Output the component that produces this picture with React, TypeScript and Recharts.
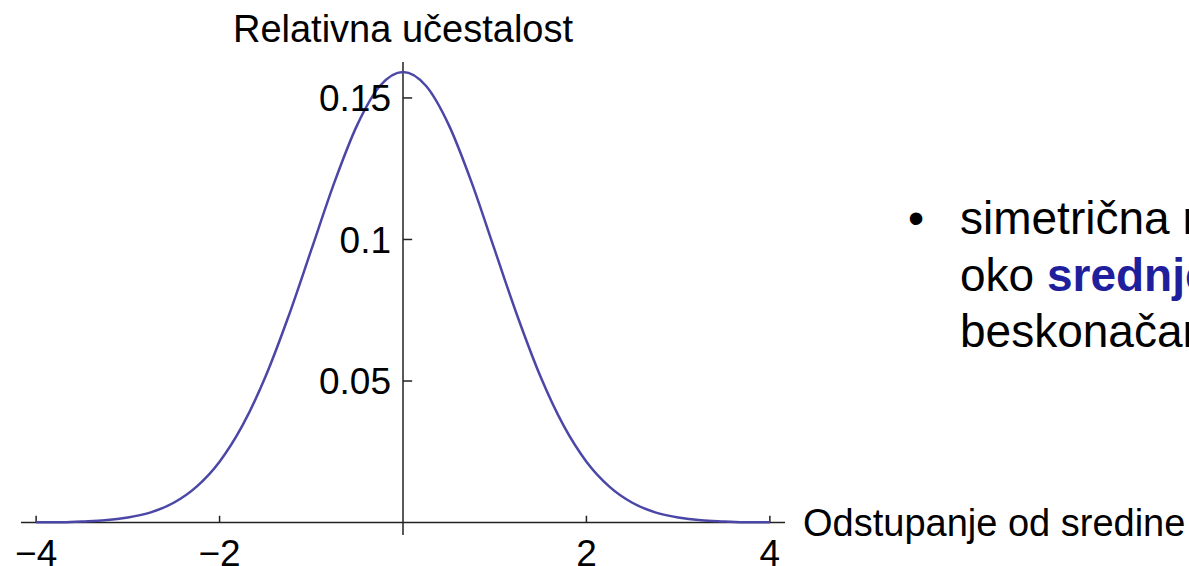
import { LineChart, Line, XAxis, YAxis, ReferenceLine } from 'recharts';

// odstupanje od sredine (x) i relativna ucestalost (y), ocitano sa slike
const deviations = [
  -4, -3.75, -3.5, -3.25, -3, -2.75, -2.5, -2.25, -2, -1.75, -1.5, -1.25, -1, -0.75, -0.5, -0.25,
  0, 0.25, 0.5, 0.75, 1, 1.25, 1.5, 1.75, 2, 2.25, 2.5, 2.75, 3, 3.25, 3.5, 3.75, 4,
];
const frequency = [
  0.0001, 0.0001, 0.0004, 0.0008, 0.0018, 0.0036, 0.007, 0.0127, 0.0215, 0.0343, 0.0515, 0.0727,
  0.0963, 0.12, 0.1404, 0.1543, 0.1592, 0.1543, 0.1404, 0.12, 0.0963, 0.0727, 0.0515, 0.0343,
  0.0215, 0.0127, 0.007, 0.0036, 0.0018, 0.0008, 0.0004, 0.0001, 0.0001,
];
const xTicks = [-4, -2, 2, 4];
const yTicks = [0.05, 0.1, 0.15];

const data = deviations.map((x, i) => ({ x, y: frequency[i] }));

const FONT = '"Liberation Sans", Arial, sans-serif';
const AXIS = '#222';

const fmtX = (v: number) => (v < 0 ? '\u2212' + Math.abs(v) : String(v));

export default function App() {
  return (
    <div style={{ position: 'absolute', left: 0, top: 0, width: 1189, height: 566, overflow: 'hidden', background: '#fff', fontFamily: FONT }}>
      <LineChart
        width={1189}
        height={566}
        data={data}
        margin={{ top: 62, right: 404, left: 21, bottom: 0 }}
        style={{ fontFamily: FONT }}
      >
        <XAxis
          dataKey="x"
          type="number"
          domain={[-4.165, 4.165]}
          allowDataOverflow
          ticks={xTicks}
          tickFormatter={fmtX}
          axisLine={false}
          tickLine={false}
          tickSize={0}
          tickMargin={5}
          height={31}
          tick={{ fill: '#000', fontSize: 37 }}
        />
        <YAxis hide type="number" domain={[-0.0044, 0.1627]} allowDataOverflow />

        <ReferenceLine
          y={0}
          stroke={AXIS}
          strokeWidth={1.5}
          label={{ value: 'Odstupanje od sredine', position: 'right', offset: 18, fill: '#000', fontSize: 38 }}
        />
        <ReferenceLine
          x={0}
          stroke={AXIS}
          strokeWidth={1.5}
          label={{ value: 'Relativna učestalost', position: 'top', offset: 20, fill: '#000', fontSize: 38 }}
        />

        {xTicks.map((t) => (
          <ReferenceLine
            key={'xt' + t}
            segment={[{ x: t, y: 0 }, { x: t, y: 0.0024 }]}
            stroke={AXIS}
            strokeWidth={1.5}
          />
        ))}
        {yTicks.map((t) => (
          <ReferenceLine
            key={'yt' + t}
            segment={[{ x: 0, y: t }, { x: 0.1, y: t }]}
            stroke={AXIS}
            strokeWidth={1.5}
            label={{ value: String(t), position: 'left', offset: 12, fill: '#000', fontSize: 37 }}
          />
        ))}

        <Line
          type="monotone"
          dataKey="y"
          stroke="#4b47a6"
          strokeWidth={2.5}
          dot={false}
          isAnimationActive={false}
        />
      </LineChart>

      <div style={{ position: 'absolute', left: 908, top: 190, fontSize: 46, lineHeight: '56.5px', color: '#000' }}>•</div>
      <div
        style={{
          position: 'absolute',
          left: 960,
          top: 190,
          width: 229,
          overflow: 'hidden',
          whiteSpace: 'nowrap',
          fontSize: 46,
          lineHeight: '56.5px',
          color: '#000',
        }}
      >
        <div>simetrična raspodjela</div>
        <div>
          oko <b style={{ color: '#1f1f9e' }}>srednje</b>
        </div>
        <div>beskonačan</div>
      </div>
    </div>
  );
}
